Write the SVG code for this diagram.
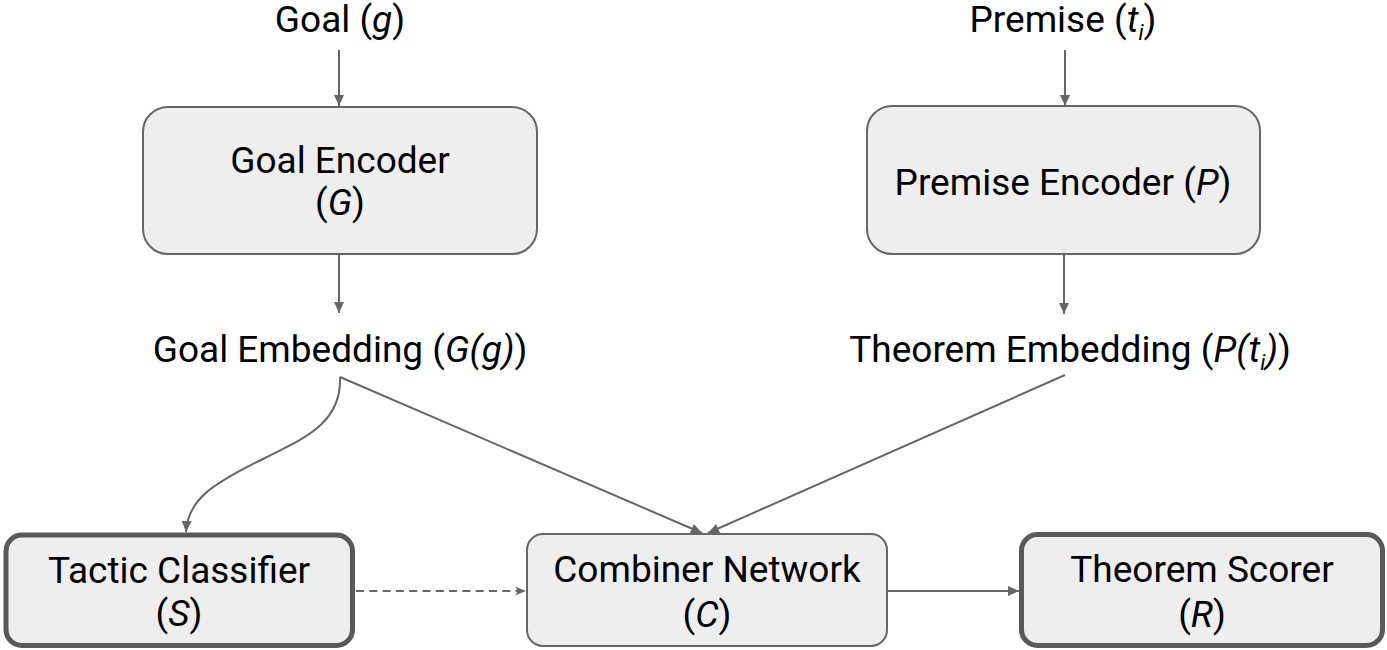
<svg xmlns="http://www.w3.org/2000/svg" width="1387" height="650" viewBox="0 0 1387 650">
<style>
  text { font-family: Roboto, "Liberation Sans", sans-serif; font-size: 37px; fill: #000; text-anchor: middle; }
  .it { font-style: italic; }
  .sub { font-size: 22px; font-style: italic; }
  .box { fill: #eeeeee; stroke: #666666; stroke-width: 2; }
  .bold { fill: #eeeeee; stroke: #595959; stroke-width: 5; }
  .conn { fill: none; stroke: #666666; stroke-width: 2; }
  .dash { stroke-dasharray: 8 5.3; }
</style>
<defs>
  <marker id="arr" markerUnits="userSpaceOnUse" markerWidth="14" markerHeight="14" viewBox="0 0 14 14" refX="12" refY="7" orient="auto">
    <path d="M1,2 L12,7 L1,12 Z" fill="#666666"/>
  </marker>
  <marker id="open" markerUnits="userSpaceOnUse" markerWidth="14" markerHeight="14" viewBox="0 0 14 14" refX="12" refY="7" orient="auto">
    <path d="M1,2.5 L12,7 L1,11.5 L4,7 Z" fill="#666666"/>
  </marker>
</defs>

<g id="connectors">
  <line class="conn" x1="339" y1="50" x2="339" y2="106" marker-end="url(#arr)"/>
  <line class="conn" x1="1065" y1="50" x2="1065" y2="106" marker-end="url(#arr)"/>
  <line class="conn" x1="339" y1="254" x2="339" y2="313" marker-end="url(#arr)"/>
  <line class="conn" x1="1064" y1="254" x2="1064" y2="314" marker-end="url(#arr)"/>
  <path class="conn" d="M340,377 C342,425 300,440 265,458 C210,485 188,500 186,532" marker-end="url(#arr)"/>
  <line class="conn" x1="340" y1="377" x2="702" y2="533" marker-end="url(#arr)"/>
  <line class="conn" x1="1065" y1="375" x2="708" y2="533" marker-end="url(#arr)"/>
  <line class="conn dash" x1="356" y1="591" x2="526" y2="591" marker-end="url(#open)"/>
  <line class="conn" x1="887" y1="591" x2="1019" y2="591" marker-end="url(#arr)"/>
</g>

<g id="goal">
  <text x="340" y="32">Goal (<tspan class="it">g</tspan>)</text>
</g>
<g id="premise">
  <text x="1063" y="32">Premise (<tspan class="it">t</tspan><tspan class="sub" dy="8">i</tspan><tspan dy="-8">)</tspan></text>
</g>

<g id="goal-encoder">
  <rect class="box" x="143" y="107" width="394" height="147" rx="25"/>
  <text x="340" y="173">Goal Encoder</text>
  <text x="340" y="215">(<tspan class="it">G</tspan>)</text>
</g>
<g id="premise-encoder">
  <rect class="box" x="867" y="106" width="393" height="148" rx="25"/>
  <text x="1063" y="195">Premise Encoder (<tspan class="it">P</tspan>)</text>
</g>

<g id="goal-embedding">
  <text x="340" y="362">Goal Embedding (<tspan class="it">G(g)</tspan>)</text>
</g>
<g id="theorem-embedding">
  <text x="1070" y="362">Theorem Embedding (<tspan class="it">P(t</tspan><tspan class="sub" dy="8">i</tspan><tspan dy="-8" class="it">)</tspan>)</text>
</g>

<g id="tactic-classifier">
  <rect class="bold" x="6" y="535" width="346.5" height="110.5" rx="16"/>
  <text x="179" y="583">Tactic Classifier</text>
  <text x="179" y="626">(<tspan class="it">S</tspan>)</text>
</g>
<g id="combiner-network">
  <rect class="box" x="527" y="534" width="360" height="112" rx="16"/>
  <text x="707" y="582">Combiner Network</text>
  <text x="707" y="627">(<tspan class="it">C</tspan>)</text>
</g>
<g id="theorem-scorer">
  <rect class="bold" x="1021.5" y="534.5" width="361" height="111" rx="16"/>
  <text x="1202" y="582">Theorem Scorer</text>
  <text x="1202" y="627">(<tspan class="it">R</tspan>)</text>
</g>
</svg>
